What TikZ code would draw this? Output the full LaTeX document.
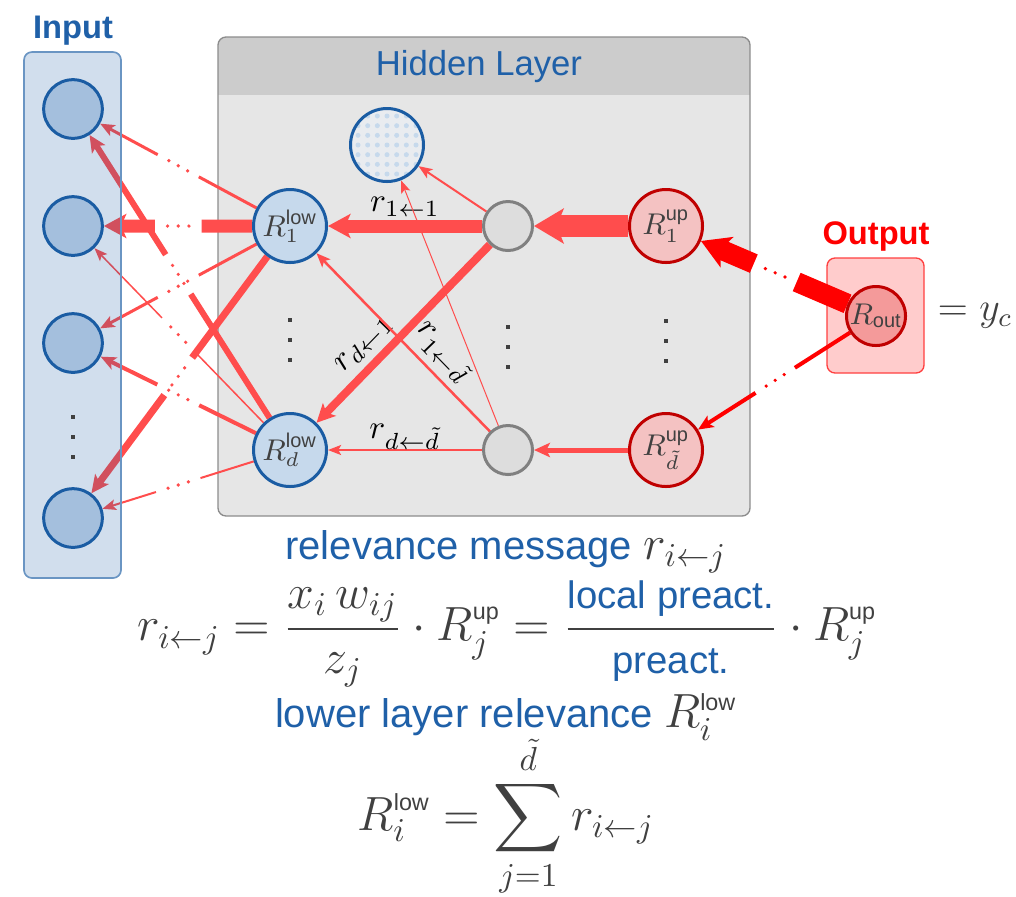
\documentclass[tikz,border=0pt]{standalone}
\usepackage{amsmath}
\usepackage[no-math]{fontspec}
\setmainfont{Liberation Sans}
\usetikzlibrary{arrows.meta,calc}

\definecolor{txtblue}{HTML}{1F60A8}
\definecolor{inblue}{HTML}{1A5CA3}
\definecolor{infill}{HTML}{A4BFDD}
\definecolor{lowfill}{HTML}{C6D9EC}
\definecolor{dotblue}{HTML}{C6D9EC}
\definecolor{biasfill}{HTML}{E9ECF0}
\definecolor{hidhead}{HTML}{CCCCCC}
\definecolor{hidbody}{HTML}{E6E6E6}
\definecolor{hidedge}{HTML}{8C8C8C}
\definecolor{hidfill}{HTML}{DDDDDD}
\definecolor{hidgray}{HTML}{808080}
\definecolor{updark}{HTML}{C00000}
\definecolor{upfill}{HTML}{F4C2C2}
\definecolor{outfill}{HTML}{F49A9A}
\definecolor{outbox}{HTML}{FFCCCC}
\definecolor{outred}{HTML}{FF0000}
\definecolor{relred}{HTML}{FF4D4D}
\definecolor{mathgray}{HTML}{404040}
\definecolor{dotgray}{HTML}{404040}

\pgfdeclarelayer{back}
\pgfdeclarelayer{links}
\pgfdeclarelayer{inbox}
\pgfsetlayers{back,links,inbox,main}

\newcommand{\nsup}[1]{\mbox{\fontsize{6}{7}\selectfont #1}}
\newcommand{\esup}[1]{\mbox{\fontsize{7}{8}\selectfont #1}}
\newcommand{\etext}[1]{\mbox{\fontsize{11.5}{13}\selectfont\color{txtblue}#1}}
\newcommand{\emath}[1]{{\fontsize{14}{16}\selectfont\color{mathgray}$#1$}}

\tikzset{>=Stealth}
\tikzset{
  unit/.style={circle, line width=0.9pt, inner sep=0pt},
  inunit/.style={unit, draw=inblue, fill=infill, minimum size=17.6pt},
  lowunit/.style={unit, draw=inblue, fill=lowfill, minimum size=21.9pt, text=mathgray, font=\fontsize{9}{10}\selectfont},
  hidunit/.style={unit, draw=hidgray, fill=hidfill, minimum size=14.7pt},
  upunit/.style={unit, draw=updark, fill=upfill, minimum size=21.9pt, text=mathgray, font=\fontsize{9}{10}\selectfont},
  outunit/.style={unit, draw=updark, fill=outfill, minimum size=17.7pt, text=mathgray, font=\fontsize{9}{10}\selectfont},
  title/.style={font=\fontsize{9.8}{11}\selectfont\bfseries},
  msgline/.style={draw=relred, line width=#1},
  msgarrow/.style={msgline=#1, -{Stealth[length=3.6pt 0.8, width=2.5pt 1.2, inset=0.8pt 0.2]}},
  rlabel/.style={font=\fontsize{10}{12}\selectfont, inner sep=1pt},
}

\begin{document}
\begin{tikzpicture}[x=0.3pt, y=-0.3pt]
  \useasboundingbox (0,0) rectangle (1016,896);

  % Boxes
  \begin{pgfonlayer}{back}
    \fill[hidbody, rounded corners=2.4pt] (218,37) rectangle (750,516);
    \begin{scope}
      \clip[rounded corners=2.4pt] (218,37) rectangle (750,516);
      \fill[hidhead] (218,37) rectangle (750,95);
    \end{scope}
    \draw[hidedge, line width=0.4pt, rounded corners=2.4pt] (218,37) rectangle (750,516);
    \filldraw[fill=outbox, draw=outred!75, line width=0.4pt, rounded corners=2.4pt] (827,258) rectangle (924,373);
  \end{pgfonlayer}
  \begin{pgfonlayer}{inbox}
    \fill[inblue, fill opacity=0.2, rounded corners=2.4pt] (24,52) rectangle (121,578);
    \draw[inblue!65, line width=0.5pt, rounded corners=2.4pt] (24,52) rectangle (121,578);
  \end{pgfonlayer}

  % Titles
  \node[title, text=txtblue] (intitle) at (73,31) {Input};
  \node[font=\fontsize{10.4}{12}\selectfont, text=txtblue] (hidtitle) at (479,67) {Hidden Layer};
  \node[title, text=outred] (outtitle) at (876,236) {Output};

  % Input layer
  \node[inunit] (in1) at (73,109) {};
  \node[inunit] (in2) at (73,226) {};
  \node[inunit] (in3) at (73,343) {};
  \node[inunit] (in4) at (73,518) {};

  % Hidden layer
  \node[lowunit] (lo1) at (290,226) {$R_1^{\nsup{low}}$};
  \node[lowunit] (lod) at (290,450) {$R_d^{\nsup{low}}$};
  \node[unit, draw=inblue, fill=biasfill, minimum size=21.9pt,
    path picture={\foreach \i in {-4,...,4} \foreach \j in {-4,...,4}
      \fill[dotblue] ($(path picture bounding box.center)+(\i*2.9pt,\j*2.9pt)$) circle (0.75pt);}] (bias) at (387,145) {};
  \node[hidunit] (hid1) at (508,226) {};
  \node[hidunit] (hidd) at (508,450) {};
  \node[upunit] (up1) at (666,226) {$R_1^{\nsup{up}}$};
  \node[upunit] (upd) at (666,450) {$R_{\tilde d}^{\nsup{up}}$};

  % Output
  \node[outunit] (out) at (876,316) {$R_{\nsup{out}}$};
  \node[anchor=west, inner sep=0pt, font=\fontsize{12}{14}\selectfont, text=mathgray] (yc) at (937,316) {$=y_c$};

  % Vertical dots
  \foreach \x/\ys in {73/{417,437,457}, 290/{320,340,360}, 508/{327,347,367}, 666/{321,341,361}}
    \foreach \y in \ys
      \fill[dotgray] (\x,\y) +(-2,-2) rectangle +(2,2);

  \begin{pgfonlayer}{links}
    % Messages inside the hidden layer
    \draw[msgarrow=6.6pt] (up1) -- (hid1);
    \draw[msgarrow=1.5pt] (upd) -- (hidd);
    \draw[msgarrow=3.9pt] (hid1) -- node[rlabel, above=0pt] {$r_{1\leftarrow 1}$} (lo1);
    \draw[msgarrow=2.4pt] (hid1) -- node[rlabel, pos=0.64, sloped, above=1pt] {$r_{d\leftarrow 1}$} (lod);
    \draw[msgarrow=0.6pt] (hid1) -- (bias);
    \draw[msgarrow=0.75pt] (hidd) -- node[rlabel, pos=0.36, sloped, above=1pt] {$r_{1\leftarrow \tilde d}$} (lo1);
    \draw[msgarrow=0.3pt] (hidd) -- (bias);
    \draw[msgarrow=0.45pt] (hidd) -- node[rlabel, above=-1pt] {$r_{d\leftarrow \tilde d}$} (lod);

    % Messages across the layer boundaries
    \foreach \src/\dst/\lw/\gap/\clr in {
        lo1/in1/0.9pt/0.515/relred, lo1/in2/3.9pt/0.515/relred,
        lo1/in3/0.9pt/0.515/relred, lo1/in4/2.1pt/0.515/relred,
        lod/in1/1.8pt/0.515/relred, lod/in2/0.45pt/0.515/relred,
        lod/in3/1.2pt/0.515/relred, lod/in4/0.6pt/0.515/relred,
        out/up1/6pt/0.48/outred, out/upd/1.2pt/0.48/outred}{
      \draw[msgline=\lw, draw=\clr] (\src) -- ($(\src)!\gap!(\dst)!7pt!(\src)$);
      \foreach \d in {-3.2pt,0pt,3.2pt}
        \fill[\clr] ($(\src)!\gap!(\dst)!\d!(\dst)$) circle (0.55pt);
      \draw[msgarrow=\lw, draw=\clr] ($(\src)!\gap!(\dst)!7pt!(\dst)$) -- (\dst);
    }
  \end{pgfonlayer}

  % Formulas
  \node[font=\fontsize{12}{14}\selectfont, text=txtblue] (msgtitle) at (506,552) {relevance message \emath{r_{i\leftarrow j}}};
  \node[font=\fontsize{14}{16}\selectfont, text=mathgray] (msgeq) at (507,634)
    {$\displaystyle r_{i\leftarrow j} = \frac{x_i\,w_{ij}}{z_j}\cdot R_j^{\esup{up}} = \frac{\etext{local preact.}}{\etext{preact.}}\cdot R_j^{\esup{up}}$};
  \node[font=\fontsize{12}{14}\selectfont, text=txtblue] (lowtitle) at (506,717) {lower layer relevance \emath{R_i^{\esup{low}}}};
  \node[font=\fontsize{14}{16}\selectfont, text=mathgray] (loweq) at (506,816)
    {$\displaystyle R_i^{\esup{low}} = \sum_{j=1}^{\tilde d} r_{i\leftarrow j}$};
\end{tikzpicture}
\end{document}
